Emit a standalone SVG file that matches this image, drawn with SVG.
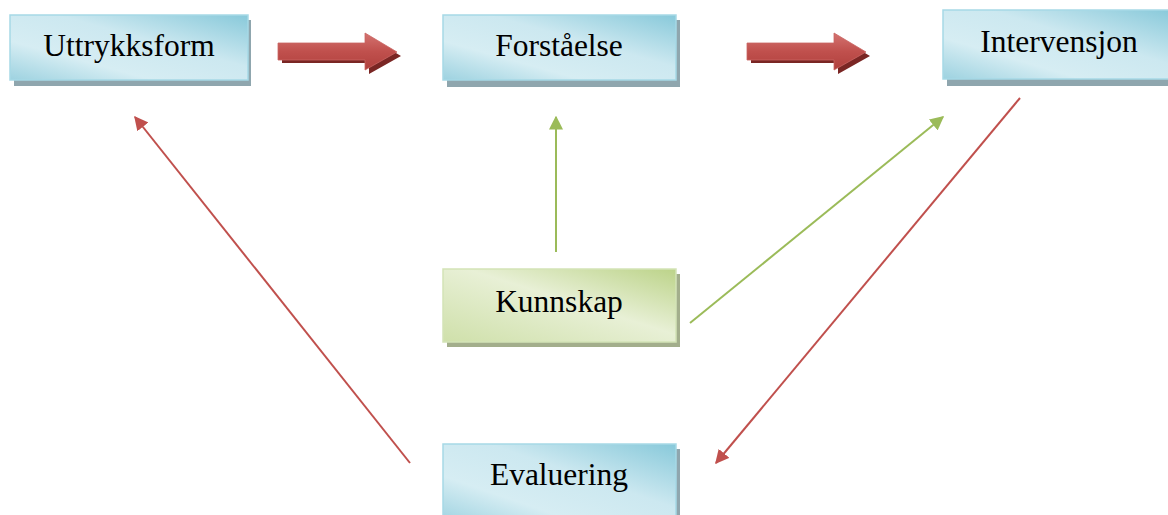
<svg xmlns="http://www.w3.org/2000/svg" width="1168" height="515" viewBox="0 0 1168 515">
<defs>
<linearGradient id="gb" x1="0" y1="1" x2="1" y2="0">
<stop offset="0" stop-color="#9dd2e0"/>
<stop offset="0.3" stop-color="#d6edf3"/>
<stop offset="0.6" stop-color="#cce8f0"/>
<stop offset="1" stop-color="#88c9da"/>
</linearGradient>
<linearGradient id="gg" x1="1" y1="0" x2="0" y2="1">
<stop offset="0" stop-color="#bcd389"/>
<stop offset="0.45" stop-color="#e8f0d6"/>
<stop offset="1" stop-color="#cfe0aa"/>
</linearGradient>
<linearGradient id="ga" x1="0" y1="0" x2="0" y2="1">
<stop offset="0" stop-color="#d47370"/>
<stop offset="0.5" stop-color="#c0504d"/>
<stop offset="1" stop-color="#b0403d"/>
</linearGradient>
<marker id="mr" viewBox="0 0 10 10" refX="9" refY="5" markerWidth="7" markerHeight="7" markerUnits="strokeWidth" orient="auto">
<path d="M0,0 L10,5 L0,10 z" fill="#c0504d"/>
</marker>
<marker id="mg" viewBox="0 0 10 10" refX="9" refY="5" markerWidth="7" markerHeight="7" markerUnits="strokeWidth" orient="auto">
<path d="M0,0 L10,5 L0,10 z" fill="#9bbb59"/>
</marker>
</defs>
<style>
.sh{fill:#8fa6ae}
.shg{fill:#a3ae8c}
.bb{fill:url(#gb);stroke:#a6d9e6;stroke-width:1.5}
.bg{fill:url(#gg);stroke:#d3e3b7;stroke-width:1.5}
.t{font-family:"Liberation Serif","Times New Roman",serif;font-size:31.5px;fill:#000;text-anchor:middle}
.cr{stroke:#c0504d;stroke-width:2;fill:none;marker-end:url(#mr)}
.cg{stroke:#9bbb59;stroke-width:2;fill:none;marker-end:url(#mg)}
</style>
<g id="connectors">
<line class="cg" x1="556" y1="252" x2="556" y2="117"/>
<line class="cg" x1="690" y1="323" x2="943" y2="117"/>
<line class="cr" x1="1020" y1="98" x2="716" y2="463"/>
<line class="cr" x1="410" y1="463" x2="135" y2="117"/>
<g id="arrow1">
<path d="M282,47 h87 v-10 l32,19 l-32,18 v-11 h-87 z" fill="#7a2624"/>
<path d="M278,43 h87 v-10 l32,19 l-32,18 v-10 h-87 z" fill="url(#ga)" stroke="#c96562" stroke-width="0.8"/>
</g>
<g id="arrow2">
<path d="M751,47 h87 v-10 l32,19 l-32,18 v-11 h-87 z" fill="#7a2624"/>
<path d="M747,43 h87 v-10 l32,19 l-32,18 v-10 h-87 z" fill="url(#ga)" stroke="#c96562" stroke-width="0.8"/>
</g>
</g>
<g id="uttrykksform">
<rect class="sh" x="14" y="20" width="237" height="66"/>
<rect class="bb" x="10" y="15" width="238" height="65"/>
<text class="t" x="129" y="56">Uttrykksform</text>
</g>
<g id="forstaelse">
<rect class="sh" x="447" y="20" width="233" height="67"/>
<rect class="bb" x="443" y="15" width="233" height="65"/>
<text class="t" x="559" y="56">Forståelse</text>
</g>
<g id="intervensjon">
<rect class="sh" x="947" y="15" width="230" height="71"/>
<rect class="bb" x="943" y="10" width="230" height="69"/>
<text class="t" x="1059" y="52">Intervensjon</text>
</g>
<g id="kunnskap">
<rect class="shg" x="447" y="274" width="233" height="73"/>
<rect class="bg" x="443" y="269" width="233" height="73"/>
<text class="t" x="559" y="312">Kunnskap</text>
</g>
<g id="evaluering">
<rect class="sh" x="447" y="449" width="233" height="80"/>
<rect class="bb" x="443" y="444" width="233" height="80"/>
<text class="t" x="559" y="485">Evaluering</text>
</g>
</svg>
